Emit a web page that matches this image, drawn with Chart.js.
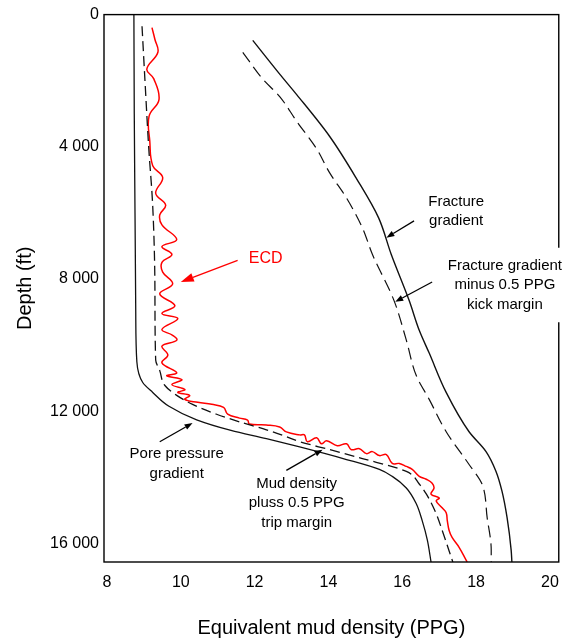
<!DOCTYPE html>
<html>
<head>
<meta charset="utf-8">
<script src="https://cdn.jsdelivr.net/npm/chart.js@4.4.1/dist/chart.umd.min.js"></script>
<style>
  html, body { margin: 0; padding: 0; background: #fff; }
  #wrap { width: 570px; height: 641px; }
</style>
</head>
<body>
<div id="wrap"><canvas id="chart"></canvas></div>
<script>
// depth in ft, density in ppg
var xTicks = [8, 10, 12, 14, 16, 18, 20];
var yTicks = [0, 4000, 8000, 12000, 16000];

// pore pressure gradient
var poreDepth = [0, 3000, 6000, 9000, 10500, 11130, 11430, 11850, 12260, 12580, 12830, 13080, 13460, 13760, 13970, 14320, 14800, 15310, 15900, 16560];
var poreValue = [8.73, 8.74, 8.76, 8.78, 8.81, 8.97, 9.24, 9.68, 10.43, 11.36, 12.32, 13.22, 14.49, 15.38, 15.73, 16.11, 16.38, 16.54, 16.68, 16.78];

// mud density + 0.5 ppg trip margin
var mudDepth = [350, 2000, 4000, 5800, 8400, 10450, 10770, 11220, 11520, 11790, 12090, 12320, 12560, 12770, 12920, 13160, 13430, 13820, 14200, 14500, 15100, 15600, 16560];
var mudValue = [8.95, 9.03, 9.13, 9.24, 9.30, 9.32, 9.43, 9.57, 9.89, 10.32, 10.97, 11.59, 12.32, 12.86, 13.22, 14.03, 14.92, 16.11, 16.46, 16.65, 16.92, 17.08, 17.37];

// ECD
var ecdDepth = [394, 752, 1139, 1647, 1945, 2571, 3078, 3824, 4570, 4928, 5405, 5763, 6062, 6360, 6807, 7016, 7255, 7493, 7791, 8149,
  8448, 8806, 9045, 9194, 9522, 9701, 9851, 10030, 10298, 10537, 10835, 10924, 11043, 11193, 11342, 11431, 11521, 11640, 11730, 11790,
  11879, 12088, 12207, 12267, 12386, 12416, 12476, 12625, 12714, 12714, 12923, 12804, 12983, 12893, 13042, 12983, 13162, 13132, 13281, 13221,
  13341, 13311, 13579, 13579, 13669, 13758, 13967, 14056, 14176, 14325, 14504, 14623, 14713, 14922, 15071, 15310, 15608, 15817, 16115, 16503, 16560];
var ecdValue = [9.22, 9.30, 9.38, 9.08, 9.27, 9.41, 9.14, 9.16, 9.24, 9.51, 9.32, 9.59, 9.43, 9.49, 9.89, 9.49, 9.76, 9.49, 9.51, 9.78,
  9.43, 9.84, 9.49, 9.92, 9.49, 9.78, 9.89, 9.49, 9.65, 9.49, 9.89, 9.62, 10.03, 9.76, 10.11, 9.92, 10.24, 10.11, 10.46, 10.84,
  11.16, 11.27, 11.59, 11.81, 11.86, 12.32, 12.68, 12.86, 13.22, 13.35, 13.43, 13.68, 13.81, 13.95, 14.24, 14.49, 14.62, 14.84, 15.03, 15.19,
  15.38, 15.57, 15.73, 15.92, 16.11, 16.27, 16.46, 16.65, 16.81, 16.86, 16.78, 17.00, 16.92, 17.08, 17.19, 17.22, 17.27, 17.35, 17.54, 17.73, 17.76];

// fracture gradient
var fracDepth = [780, 1800, 2420, 3680, 4960, 6150, 7250, 8660, 9550, 10240, 11430, 12620, 13220, 13820, 14410, 15220, 16200, 16560];
var fracValue = [11.95, 12.68, 13.14, 14.03, 14.76, 15.36, 15.70, 16.19, 16.46, 16.73, 17.19, 17.81, 18.27, 18.54, 18.70, 18.84, 18.95, 18.97];

// fracture gradient - 0.5 ppg kick margin
var kickDepth = [1140, 1950, 2480, 3230, 4060, 4780, 5550, 6450, 7250, 8660, 9850, 10920, 11640, 12620, 13610, 14200, 15220, 16200, 16560];
var kickValue = [11.68, 12.22, 12.68, 13.14, 13.68, 14.03, 14.49, 14.92, 15.19, 15.78, 16.11, 16.38, 16.73, 17.19, 17.81, 18.16, 18.30, 18.41, 18.41];

// labels, placed in data units (ppg, ft)
var notes = [
  { text: ['ECD'], x: 12.30, y: 7374, color: '#ff0000', size: 16, from: [11.54, 7433], to: [10.00, 8090], head: 13, half: 4.5 },
  { text: ['Fracture', 'gradient'], x: 17.46, y: 5957, color: '#000', size: 15, from: [16.32, 6241], to: [15.57, 6748], head: 8, half: 3 },
  { text: ['Fracture gradient', 'minus 0.5 PPG', 'kick margin'], x: 18.78, y: 8180, color: '#000', size: 15, box: true, from: [16.81, 8090], to: [15.81, 8687], head: 8, half: 3 },
  { text: ['Pore pressure', 'gradient'], x: 9.89, y: 13594, color: '#000', size: 15, from: [9.43, 12923], to: [10.32, 12356], head: 8, half: 3 },
  { text: ['Mud density', 'pluss 0.5 PPG', 'trip margin'], x: 13.14, y: 14772, color: '#000', size: 15, from: [12.86, 13787], to: [13.84, 13161], head: 8, half: 3 }
];

function pairs(d, v) {
  return d.map(function (y, i) { return { x: v[i], y: y }; });
}

var frameAndNotes = {
  id: 'frameAndNotes',
  afterDatasetsDraw: function (chart) {
    var ctx = chart.ctx, a = chart.chartArea, sx = chart.scales.x, sy = chart.scales.y;
    ctx.save();
    ctx.strokeStyle = '#000';
    ctx.lineWidth = 1.4;
    ctx.strokeRect(a.left, a.top, a.right - a.left, a.bottom - a.top);
    notes.forEach(function (n) {
      var cx = sx.getPixelForValue(n.x), cy = sy.getPixelForValue(n.y);
      var lh = n.size * 1.3;
      var top = cy - lh * (n.text.length - 1) / 2;
      ctx.font = n.size + 'px "Liberation Sans", Arial, sans-serif';
      if (n.box) {
        var w = Math.max.apply(null, n.text.map(function (t) { return ctx.measureText(t).width; }));
        ctx.fillStyle = '#fff';
        ctx.fillRect(cx - w / 2 - 6, top - lh / 2 - 8, w + 12, lh * n.text.length + 16);
      }
      ctx.fillStyle = n.color;
      ctx.textAlign = 'center';
      ctx.textBaseline = 'middle';
      n.text.forEach(function (t, i) { ctx.fillText(t, cx, top + i * lh); });

      var x0 = sx.getPixelForValue(n.from[0]), y0 = sy.getPixelForValue(n.from[1]);
      var x1 = sx.getPixelForValue(n.to[0]), y1 = sy.getPixelForValue(n.to[1]);
      var ang = Math.atan2(y1 - y0, x1 - x0);
      var bx = x1 - Math.cos(ang) * n.head, by = y1 - Math.sin(ang) * n.head;
      ctx.strokeStyle = n.color;
      ctx.lineWidth = 1.3;
      ctx.beginPath();
      ctx.moveTo(x0, y0);
      ctx.lineTo(bx, by);
      ctx.stroke();
      ctx.fillStyle = n.color;
      ctx.beginPath();
      ctx.moveTo(x1, y1);
      ctx.lineTo(bx + Math.sin(ang) * n.half, by - Math.cos(ang) * n.half);
      ctx.lineTo(bx - Math.sin(ang) * n.half, by + Math.cos(ang) * n.half);
      ctx.closePath();
      ctx.fill();
    });
    ctx.restore();
  }
};

Chart.defaults.font.family = '"Liberation Sans", Arial, sans-serif';
Chart.defaults.color = '#000';

var ctx = document.getElementById('chart');
var chart = new Chart(ctx, {
  type: 'line',
  data: {
    datasets: [
      { label: 'Pore pressure gradient', data: pairs(poreDepth, poreValue), borderColor: '#111', borderWidth: 1.3, cubicInterpolationMode: 'monotone' },
      { label: 'Mud density', data: pairs(mudDepth, mudValue), borderColor: '#111', borderWidth: 1.3, borderDash: [10, 5], cubicInterpolationMode: 'monotone' },
      { label: 'Fracture gradient', data: pairs(fracDepth, fracValue), borderColor: '#111', borderWidth: 1.4, cubicInterpolationMode: 'monotone' },
      { label: 'Fracture gradient minus 0.5 PPG', data: pairs(kickDepth, kickValue), borderColor: '#111', borderWidth: 1.2, borderDash: [12, 6], cubicInterpolationMode: 'monotone' },
      { label: 'ECD', data: pairs(ecdDepth, ecdValue), borderColor: '#ff0000', borderWidth: 1.5, tension: 0.4 }
    ]
  },
  options: {
    indexAxis: 'y',
    responsive: true,
    maintainAspectRatio: false,
    animation: false,
    devicePixelRatio: 1,
    elements: { point: { radius: 0 } },
    layout: { padding: { top: 7, right: 10, left: 0, bottom: 0 } },
    plugins: { legend: { display: false }, tooltip: { enabled: false } },
    scales: {
      x: {
        type: 'linear',
        position: 'bottom',
        min: 7.92,
        max: 20.24,
        afterBuildTicks: function (s) { s.ticks = xTicks.map(function (v) { return { value: v }; }); },
        afterFit: function (s) { s.height = 79; },
        grid: { display: false, drawTicks: false },
        border: { display: false },
        ticks: { padding: 11, font: { size: 16 }, color: '#000' },
        title: { display: true, text: 'Equivalent mud density (PPG)', font: { size: 20 }, padding: { top: 0, bottom: 1 }, color: '#000' }
      },
      y: {
        type: 'linear',
        position: 'left',
        reverse: true,
        min: 0,
        max: 16560,
        afterBuildTicks: function (s) { s.ticks = yTicks.map(function (v) { return { value: v }; }); },
        afterFit: function (s) { s.width = 104; },
        grid: { display: false, drawTicks: false },
        border: { display: false },
        ticks: {
          padding: 5, font: { size: 16 }, color: '#000',
          callback: function (v) { return String(v).replace(/\B(?=(\d{3})+(?!\d))/g, ' '); }
        },
        title: { display: true, text: 'Depth (ft)', font: { size: 20 }, padding: { top: 13, bottom: 0 }, color: '#000' }
      }
    }
  },
  plugins: [frameAndNotes]
});
</script>
</body>
</html>
